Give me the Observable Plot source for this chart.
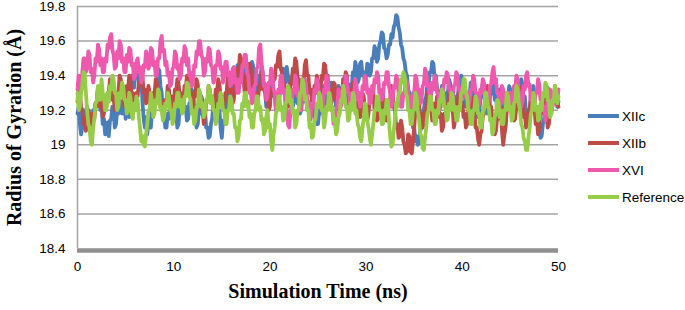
<!DOCTYPE html>
<html><head><meta charset="utf-8">
<script src="https://cdn.jsdelivr.net/npm/d3@7"></script>
<script src="https://cdn.jsdelivr.net/npm/@observablehq/plot@0.6"></script>
<style>
body{margin:0;background:#fff}
#wrap{position:relative;width:685px;height:310px}
#legend{position:absolute;left:588px;top:0;font-family:"Liberation Sans",Arial,sans-serif;font-size:13.5px;color:#000}
.item{position:absolute;left:0;white-space:nowrap;display:flex;align-items:center}
.sw{width:31px;height:4px;margin-right:3px}
</style>
</head><body><div id="wrap"><div id="legend"></div></div>
<script>
const seriesNames = ["XIIc", "XIIb", "XVI", "Reference"];
const seriesColors = ["#4a7ebb", "#be4b48", "#ee59ad", "#97cc48"];
const xTicks = [0, 10, 20, 30, 40, 50];
const yTicks = [18.4, 18.6, 18.8, 19, 19.2, 19.4, 19.6, 19.8];
const tMax = 50;

const XIIc = [
19.18,19.22,19.12,19.06,19.1,19.18,19.15,19.2,19.22,19.14,19.12,19.06,19.1,19.2,19.17,19.24,19.25,19.33,19.3,19.2,19.22,19.12,19.15,19.06,19.08,19.13,19.05,19.14,19.15,19.22,19.2,19.1,19.12,19.2,19.18,19.26,19.25,19.18,19.2,19.26,
19.15,19.24,19.22,19.16,19.3,19.4,19.38,19.33,19.42,19.47,19.46,19.36,19.35,19.4,19.25,19.15,19.1,19.16,19.06,19.14,19.15,19.1,19.2,19.3,19.28,19.24,19.35,19.44,19.43,19.34,19.3,19.2,19.18,19.1,19.1,19.18,19.15,19.24,19.22,19.16,
19.25,19.3,19.18,19.1,19.12,19.22,19.2,19.26,19.28,19.2,19.22,19.14,19.15,19.24,19.25,19.32,19.3,19.22,19.2,19.1,19.12,19.2,19.18,19.28,19.26,19.16,19.2,19.1,19.1,19.04,19.05,19.12,19.15,19.24,19.22,19.3,19.28,19.18,19.2,19.1,
19.04,19.14,19.12,19.2,19.2,19.3,19.28,19.36,19.35,19.26,19.3,19.4,19.38,19.46,19.45,19.36,19.4,19.47,19.48,19.4,19.42,19.32,19.35,19.44,19.4,19.48,19.46,19.36,19.38,19.28,19.3,19.4,19.36,19.45,19.42,19.32,19.3,19.22,19.25,19.35,
19.32,19.4,19.38,19.28,19.3,19.2,19.22,19.3,19.28,19.38,19.35,19.44,19.42,19.36,19.45,19.4,19.38,19.3,19.3,19.22,19.25,19.34,19.32,19.24,19.28,19.18,19.2,19.3,19.25,19.34,19.3,19.2,19.22,19.14,19.18,19.26,19.25,19.16,19.2,19.12,
19.12,19.2,19.18,19.26,19.25,19.34,19.3,19.2,19.22,19.3,19.28,19.36,19.35,19.26,19.3,19.22,19.25,19.34,19.32,19.26,19.28,19.38,19.35,19.27,19.3,19.22,19.25,19.35,19.32,19.42,19.4,19.48,19.45,19.36,19.38,19.47,19.48,19.4,19.42,19.36,
19.4,19.47,19.46,19.4,19.42,19.5,19.5,19.57,19.55,19.48,19.5,19.58,19.6,19.65,19.64,19.56,19.55,19.5,19.52,19.58,19.58,19.64,19.62,19.68,19.7,19.75,19.74,19.68,19.65,19.58,19.56,19.5,19.48,19.42,19.4,19.32,19.3,19.22,19.18,19.1,
19.1,19.02,19.05,19.0,19.01,19.08,19.1,19.18,19.2,19.26,19.28,19.36,19.35,19.42,19.42,19.48,19.47,19.38,19.4,19.33,19.3,19.22,19.25,19.34,19.32,19.24,19.22,19.3,19.3,19.38,19.35,19.26,19.28,19.2,19.2,19.28,19.25,19.34,19.32,19.4,
19.38,19.32,19.3,19.22,19.22,19.3,19.28,19.36,19.35,19.28,19.3,19.22,19.25,19.16,19.18,19.26,19.28,19.36,19.34,19.26,19.25,19.18,19.2,19.28,19.3,19.38,19.36,19.26,19.28,19.2,19.22,19.32,19.3,19.22,19.25,19.18,19.2,19.3,19.28,19.34,
19.32,19.24,19.25,19.16,19.18,19.26,19.22,19.3,19.3,19.38,19.35,19.26,19.28,19.18,19.2,19.12,19.15,19.22,19.25,19.34,19.3,19.2,19.22,19.14,19.12,19.04,19.05,19.12,19.15,19.24,19.25,19.33,19.3,19.22,19.2,19.28,19.26,19.32,19.28,19.22,19.25
];
const XIIb = [
19.25,19.33,19.3,19.22,19.2,19.12,19.15,19.08,19.12,19.2,19.18,19.1,19.1,19.18,19.15,19.24,19.22,19.32,19.3,19.22,19.25,19.16,19.18,19.26,19.22,19.3,19.3,19.38,19.35,19.26,19.28,19.2,19.22,19.3,19.3,19.4,19.38,19.3,19.3,19.22,
19.25,19.34,19.32,19.4,19.38,19.28,19.3,19.22,19.22,19.3,19.28,19.36,19.35,19.42,19.4,19.3,19.32,19.24,19.25,19.34,19.3,19.2,19.22,19.3,19.28,19.38,19.36,19.28,19.3,19.22,19.25,19.16,19.18,19.26,19.24,19.34,19.32,19.24,19.28,19.2,
19.22,19.32,19.3,19.38,19.36,19.28,19.3,19.22,19.25,19.34,19.32,19.4,19.38,19.28,19.3,19.2,19.22,19.3,19.28,19.38,19.35,19.26,19.3,19.22,19.2,19.12,19.16,19.24,19.25,19.34,19.32,19.24,19.28,19.2,19.22,19.32,19.3,19.38,19.35,19.28,
19.28,19.2,19.22,19.3,19.3,19.4,19.38,19.3,19.32,19.24,19.26,19.36,19.35,19.44,19.42,19.52,19.5,19.42,19.4,19.3,19.32,19.4,19.38,19.47,19.45,19.34,19.36,19.28,19.3,19.22,19.25,19.34,19.32,19.42,19.4,19.32,19.35,19.26,19.28,19.2,
19.22,19.32,19.3,19.4,19.38,19.46,19.45,19.52,19.54,19.44,19.42,19.34,19.35,19.26,19.3,19.22,19.25,19.36,19.35,19.44,19.42,19.5,19.48,19.38,19.38,19.3,19.3,19.38,19.36,19.46,19.49,19.4,19.4,19.3,19.32,19.24,19.25,19.34,19.3,19.4,
19.35,19.26,19.3,19.4,19.38,19.47,19.46,19.38,19.4,19.3,19.32,19.24,19.28,19.36,19.35,19.26,19.3,19.22,19.25,19.32,19.3,19.38,19.36,19.42,19.4,19.3,19.32,19.24,19.28,19.36,19.35,19.26,19.3,19.2,19.25,19.16,19.2,19.3,19.28,19.2,
19.22,19.14,19.18,19.26,19.25,19.32,19.3,19.2,19.22,19.14,19.15,19.22,19.2,19.3,19.28,19.2,19.22,19.14,19.18,19.26,19.25,19.34,19.3,19.22,19.2,19.1,19.12,19.04,19.05,19.14,19.1,19.02,19.0,18.95,18.96,19.06,19.05,18.96,18.95,19.02,
19.1,19.2,19.2,19.28,19.25,19.16,19.18,19.1,19.12,19.2,19.2,19.3,19.28,19.2,19.22,19.14,19.15,19.24,19.2,19.28,19.26,19.16,19.18,19.08,19.1,19.18,19.15,19.24,19.22,19.3,19.28,19.2,19.2,19.1,19.14,19.22,19.22,19.3,19.3,19.22,
19.25,19.16,19.18,19.1,19.12,19.2,19.2,19.28,19.26,19.18,19.2,19.1,19.1,19.04,19.0,19.06,19.08,19.16,19.18,19.26,19.25,19.34,19.3,19.22,19.22,19.14,19.15,19.06,19.08,19.16,19.15,19.24,19.22,19.08,19.0,19.06,19.1,19.2,19.2,19.28,
19.28,19.2,19.22,19.14,19.15,19.24,19.25,19.34,19.32,19.24,19.25,19.16,19.18,19.1,19.12,19.2,19.2,19.3,19.28,19.2,19.22,19.12,19.15,19.06,19.1,19.2,19.18,19.28,19.25,19.16,19.2,19.1,19.12,19.2,19.18,19.28,19.25,19.34,19.3,19.24,19.22
];
const XVI = [
19.32,19.4,19.35,19.3,19.42,19.5,19.5,19.42,19.45,19.54,19.52,19.42,19.44,19.36,19.4,19.5,19.48,19.58,19.55,19.46,19.5,19.42,19.42,19.5,19.48,19.58,19.56,19.62,19.64,19.55,19.52,19.44,19.45,19.54,19.5,19.6,19.58,19.48,19.5,19.42,
19.42,19.52,19.48,19.56,19.55,19.46,19.47,19.38,19.4,19.48,19.5,19.42,19.45,19.36,19.38,19.46,19.45,19.54,19.52,19.44,19.46,19.56,19.55,19.46,19.48,19.4,19.4,19.5,19.5,19.6,19.63,19.54,19.55,19.46,19.48,19.4,19.42,19.34,19.35,19.44,
19.45,19.54,19.52,19.44,19.46,19.38,19.4,19.5,19.48,19.57,19.55,19.46,19.5,19.4,19.42,19.34,19.36,19.46,19.45,19.54,19.52,19.6,19.6,19.52,19.5,19.4,19.42,19.5,19.48,19.56,19.55,19.46,19.45,19.36,19.38,19.46,19.46,19.54,19.52,19.44,
19.45,19.36,19.4,19.48,19.48,19.4,19.42,19.34,19.35,19.44,19.45,19.36,19.38,19.3,19.3,19.38,19.36,19.46,19.45,19.52,19.52,19.42,19.4,19.3,19.32,19.24,19.25,19.34,19.35,19.44,19.45,19.56,19.58,19.48,19.42,19.34,19.35,19.26,19.28,19.36,
19.35,19.44,19.42,19.32,19.3,19.2,19.22,19.32,19.3,19.4,19.4,19.3,19.32,19.22,19.2,19.12,19.1,19.18,19.22,19.32,19.3,19.4,19.38,19.28,19.28,19.2,19.2,19.3,19.3,19.38,19.35,19.26,19.25,19.14,19.15,19.24,19.22,19.32,19.3,19.38,
19.36,19.26,19.28,19.2,19.22,19.32,19.3,19.4,19.38,19.28,19.3,19.2,19.2,19.12,19.12,19.2,19.22,19.32,19.3,19.22,19.25,19.34,19.32,19.4,19.38,19.3,19.3,19.2,19.22,19.3,19.28,19.38,19.35,19.26,19.3,19.22,19.25,19.34,19.32,19.4,
19.38,19.3,19.32,19.24,19.25,19.34,19.3,19.38,19.36,19.42,19.4,19.3,19.32,19.26,19.28,19.36,19.35,19.42,19.42,19.34,19.3,19.22,19.25,19.34,19.33,19.4,19.38,19.3,19.3,19.22,19.22,19.3,19.3,19.38,19.36,19.28,19.28,19.2,19.22,19.3,
19.3,19.4,19.38,19.3,19.32,19.24,19.25,19.34,19.35,19.44,19.42,19.34,19.35,19.26,19.28,19.36,19.32,19.4,19.38,19.3,19.3,19.2,19.22,19.3,19.3,19.38,19.36,19.42,19.4,19.32,19.32,19.24,19.25,19.34,19.35,19.42,19.4,19.32,19.33,19.26,
19.28,19.36,19.35,19.27,19.3,19.22,19.25,19.32,19.32,19.4,19.38,19.3,19.3,19.22,19.24,19.32,19.3,19.38,19.36,19.28,19.3,19.22,19.25,19.34,19.35,19.42,19.45,19.36,19.38,19.3,19.3,19.22,19.25,19.34,19.32,19.24,19.28,19.2,19.22,19.3,
19.3,19.22,19.25,19.34,19.32,19.4,19.38,19.3,19.3,19.22,19.25,19.34,19.32,19.4,19.42,19.34,19.35,19.26,19.28,19.2,19.22,19.3,19.3,19.38,19.35,19.26,19.28,19.2,19.22,19.14,19.18,19.26,19.25,19.32,19.3,19.22,19.25,19.32,19.3,19.26,19.32
];
const Reference = [
19.3,19.2,19.22,19.3,19.35,19.42,19.41,19.3,19.2,19.12,19.1,19.02,19.0,19.1,19.15,19.24,19.25,19.34,19.32,19.26,19.38,19.3,19.28,19.2,19.2,19.3,19.25,19.34,19.32,19.4,19.38,19.3,19.3,19.2,19.22,19.3,19.28,19.36,19.34,19.26,
19.26,19.18,19.2,19.3,19.28,19.18,19.15,19.24,19.2,19.28,19.26,19.16,19.1,19.02,19.05,19.0,18.99,19.06,19.12,19.2,19.2,19.3,19.25,19.16,19.18,19.26,19.24,19.32,19.3,19.2,19.22,19.14,19.16,19.24,19.22,19.3,19.28,19.2,19.2,19.12,
19.15,19.24,19.22,19.3,19.3,19.22,19.26,19.18,19.2,19.28,19.28,19.36,19.35,19.28,19.26,19.18,19.2,19.12,19.14,19.22,19.22,19.32,19.3,19.22,19.24,19.16,19.18,19.26,19.25,19.34,19.32,19.24,19.28,19.2,19.2,19.12,19.15,19.24,19.22,19.3,
19.28,19.2,19.2,19.12,19.12,19.2,19.2,19.28,19.26,19.18,19.18,19.1,19.1,19.02,19.05,19.14,19.15,19.24,19.22,19.3,19.3,19.22,19.25,19.16,19.18,19.1,19.1,19.18,19.2,19.28,19.28,19.2,19.22,19.14,19.15,19.06,19.08,19.16,19.2,19.1,
19.12,19.02,18.97,19.06,19.1,19.18,19.2,19.28,19.28,19.2,19.22,19.14,19.15,19.24,19.25,19.34,19.32,19.24,19.26,19.18,19.2,19.1,19.12,19.2,19.2,19.3,19.3,19.38,19.35,19.26,19.28,19.2,19.2,19.1,19.12,19.04,19.05,19.14,19.15,19.24,
19.22,19.3,19.28,19.2,19.2,19.1,19.14,19.22,19.2,19.3,19.28,19.2,19.22,19.14,19.15,19.06,19.08,19.16,19.18,19.26,19.25,19.34,19.3,19.22,19.22,19.14,19.15,19.24,19.2,19.3,19.28,19.18,19.2,19.12,19.1,19.04,19.02,19.1,19.15,19.24,
19.22,19.14,19.1,19.04,19.0,19.06,19.12,19.2,19.2,19.28,19.28,19.2,19.2,19.12,19.12,19.2,19.18,19.26,19.26,19.14,19.05,18.99,19.0,19.08,19.15,19.24,19.22,19.3,19.3,19.38,19.36,19.42,19.4,19.3,19.28,19.2,19.2,19.12,19.12,19.2,
19.2,19.3,19.28,19.2,19.15,19.06,19.05,18.98,18.97,19.04,19.1,19.18,19.2,19.28,19.28,19.2,19.2,19.12,19.12,19.2,19.18,19.26,19.25,19.32,19.3,19.22,19.22,19.14,19.15,19.24,19.2,19.3,19.28,19.2,19.22,19.14,19.14,19.22,19.2,19.3,
19.3,19.38,19.38,19.3,19.28,19.2,19.2,19.12,19.12,19.2,19.2,19.28,19.26,19.18,19.18,19.1,19.1,19.18,19.2,19.3,19.3,19.22,19.22,19.14,19.15,19.06,19.08,19.16,19.18,19.26,19.25,19.16,19.2,19.12,19.12,19.2,19.2,19.3,19.28,19.2,
19.22,19.14,19.15,19.24,19.25,19.34,19.32,19.24,19.2,19.12,19.1,19.04,19.02,18.97,18.97,19.04,19.1,19.18,19.2,19.3,19.28,19.2,19.22,19.14,19.15,19.24,19.2,19.3,19.28,19.36,19.35,19.26,19.25,19.16,19.18,19.26,19.25,19.34,19.32,19.24,19.28
];

const seriesValues = [XIIc, XIIb, XVI, Reference];
const rows = [];
seriesValues.forEach((arr, k) => {
  arr.forEach((v, i) => rows.push({s: seriesNames[k], t: i * tMax / (arr.length - 1), v}));
});

const fmt = d => String(+d.toFixed(1));
const serif = '"Liberation Serif", "Times New Roman", serif';
const chart = Plot.plot({
  width: 685, height: 310,
  marginLeft: 77, marginRight: 127, marginTop: 6, marginBottom: 62,
  style: {fontFamily: '"Liberation Sans", Arial, sans-serif', fontSize: "13.5px", color: "#000", background: "#fff", overflow: "visible"},
  x: {domain: [0, tMax]},
  y: {domain: [18.4, 19.8]},
  color: {domain: seriesNames, range: seriesColors},
  marks: [
    Plot.ruleY(yTicks.filter(d => d > 18.4), {stroke: "#a3a3a3", strokeWidth: 1.5}),
    Plot.ruleX([0], {stroke: "#a3a3a3", strokeWidth: 1.5}),
    Plot.ruleY([18.4], {stroke: "#8f8f8f", strokeWidth: 4.5, dy: 2}),
    Plot.axisX({ticks: xTicks, tickSize: 0, tickPadding: 13, label: null, tickFormat: fmt}),
    Plot.axisY({ticks: yTicks, tickSize: 0, tickPadding: 12, label: null, tickFormat: fmt}),
    Plot.line(rows, {x: "t", y: "v", z: "s", stroke: "s", strokeWidth: 3.8, strokeLinejoin: "round"}),
    Plot.text(["Radius of Gyration (Å)"], {frameAnchor: "left", dx: -63, rotate: -90, textAnchor: "middle", fontSize: 20, fontWeight: "bold", fontFamily: serif, fill: "#000"}),
    Plot.text(["Simulation Time (ns)"], {frameAnchor: "bottom", dy: 49, fontSize: 20, fontWeight: "bold", fontFamily: serif, fill: "#000"})
  ]
});
const wrap = document.getElementById("wrap");
wrap.insertBefore(chart, wrap.firstChild);

const legend = document.getElementById("legend");
const legendTops = [116, 143, 170, 197];
seriesNames.forEach((n, i) => {
  const it = document.createElement("div");
  it.className = "item";
  it.style.top = (legendTops[i] - 9) + "px";
  it.style.height = "18px";
  it.innerHTML = `<span class="sw" style="background:${seriesColors[i]}"></span><span>${n}</span>`;
  legend.appendChild(it);
});
</script>
</body></html>
